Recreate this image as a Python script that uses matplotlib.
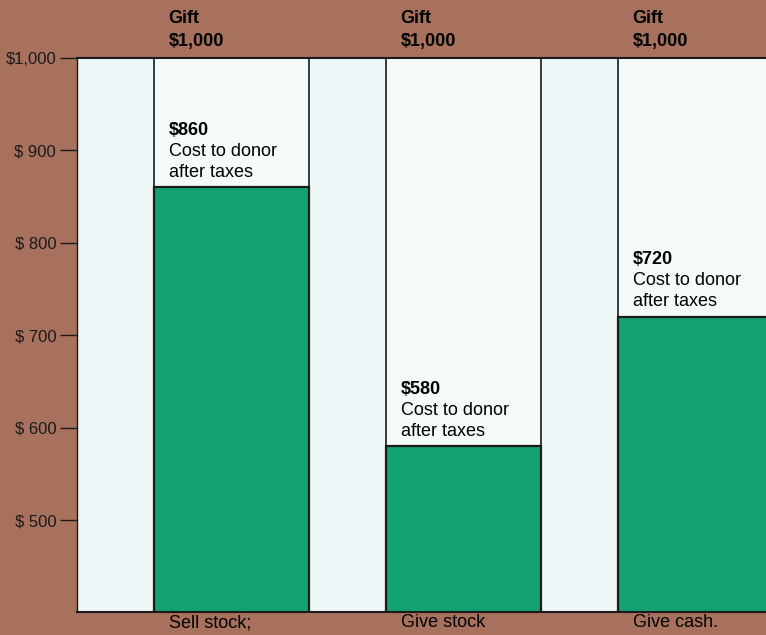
import matplotlib.pyplot as plt

# data
options = ["Sell stock;", "Give stock", "Give cash."]
gift = [1000, 1000, 1000]
cost_after_tax = [860, 580, 720]
cost_labels = ["$860", "$580", "$720"]
y_ticks = [500, 600, 700, 800, 900, 1000]
y_tick_labels = ["$ 500", "$ 600", "$ 700", "$ 800", "$ 900", "$1,000"]

BROWN = "#a8715d"
GREEN = "#12a272"
PALE = "#eef8f8"
BAR_W = 0.668

plt.rcParams["font.family"] = ["Liberation Sans", "DejaVu Sans"]


def main():
    fig = plt.figure(figsize=(7.66, 6.35), dpi=100, facecolor=BROWN)
    ax = fig.add_axes([0.1005, 0.0362, 0.8995, 0.8725])
    ax.set_facecolor(PALE)

    xs = list(range(len(options)))

    # full gift column, then the green after-tax cost
    ax.bar(xs, gift, width=BAR_W, color="#f5fbfb", edgecolor="#1a1a1a", linewidth=1.2)
    ax.bar(xs, cost_after_tax, width=BAR_W, color=GREEN, edgecolor="#1a1a1a", linewidth=1.6)

    ax.set_xlim(-0.664, 2.306)
    ax.set_ylim(401, 1000)

    fs = 13
    for x, val, lab, name in zip(xs, cost_after_tax, cost_labels, options):
        left = x - BAR_W / 2 + 0.065
        # gift label above the plot
        ax.text(left, 1009, "Gift\n$1,000", fontsize=fs, fontweight="bold",
                ha="left", va="bottom", linespacing=1.4, clip_on=False)
        # cost label above green bar
        ax.text(left, val + 7.5, "Cost to donor\nafter taxes", fontsize=fs,
                ha="left", va="bottom", linespacing=1.3)
        ax.text(left, val + 7.5 + 45, lab, fontsize=fs, fontweight="bold",
                ha="left", va="bottom")
        # option name below
        ax.text(left, 398.5, name, fontsize=fs, ha="left", va="top", clip_on=False)

    ax.set_xticks([])
    ax.set_yticks(y_ticks)
    ax.set_yticklabels(y_tick_labels, fontsize=12, color="#1a1a1a")
    ax.tick_params(axis="y", direction="out", length=12, width=1.0,
                   color="#1a1a1a", pad=3)

    for side in ["top", "bottom", "left"]:
        ax.spines[side].set_color("#1a1a1a")
    ax.spines["top"].set_linewidth(1.5)
    ax.spines["bottom"].set_linewidth(1.5)
    ax.spines["left"].set_linewidth(1.0)
    ax.spines["right"].set_visible(False)

    fig.savefig("out.png", dpi=100, facecolor=BROWN)
    plt.close(fig)


if __name__ == "__main__":
    main()
